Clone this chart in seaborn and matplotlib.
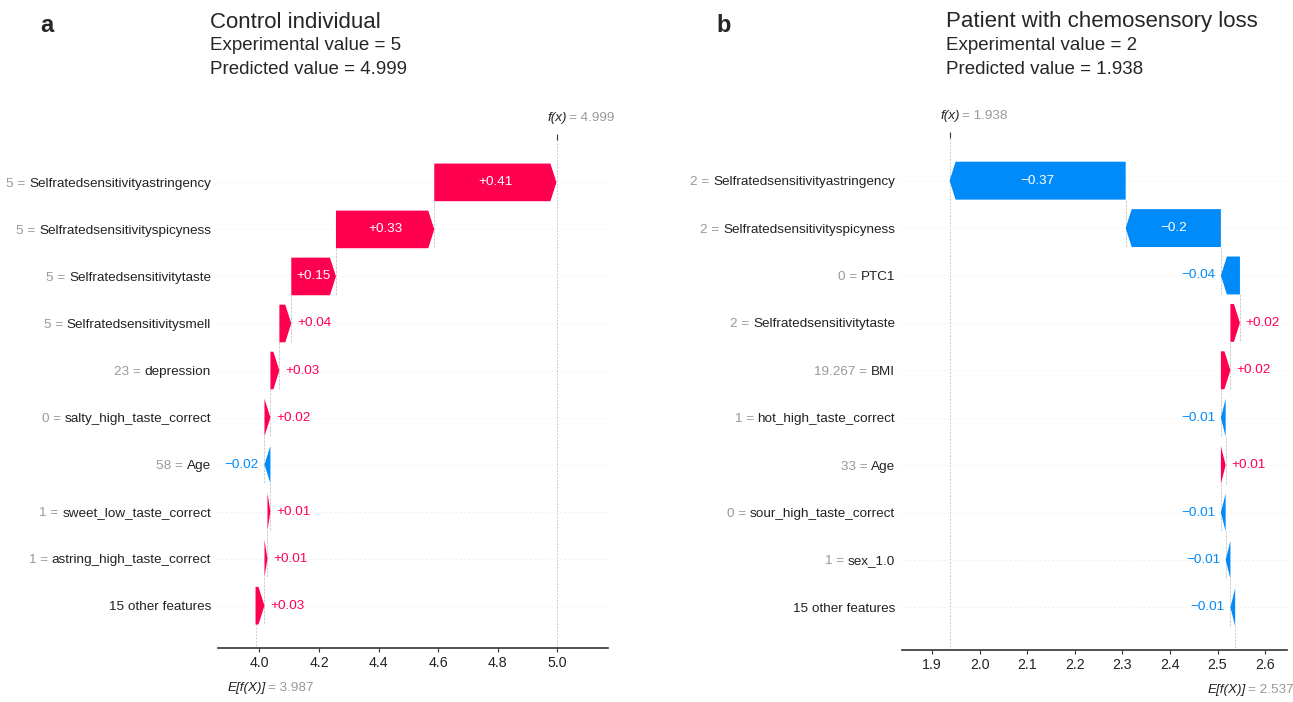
import re
import matplotlib
matplotlib.use('Agg')
import matplotlib.pyplot as plt
import numpy as np
import seaborn as sns

RED = '#ff0051'
BLUE = '#008bfb'
GRAY = '#999999'

# panel a - control individual, rows listed top to bottom
features_a = ['Selfratedsensitivityastringency', 'Selfratedsensitivityspicyness',
              'Selfratedsensitivitytaste', 'Selfratedsensitivitysmell', 'depression',
              'salty_high_taste_correct', 'Age', 'sweet_low_taste_correct',
              'astring_high_taste_correct', '15 other features']
values_a = ['5', '5', '5', '5', '23', '0', '58', '1', '1', '']
shap_a = [0.41, 0.33, 0.15, 0.04, 0.03, 0.02, -0.02, 0.01, 0.01, 0.03]
base_a = 3.987
fx_a = 4.999

# panel b - patient with chemosensory loss
features_b = ['Selfratedsensitivityastringency', 'Selfratedsensitivityspicyness', 'PTC1',
              'Selfratedsensitivitytaste', 'BMI', 'hot_high_taste_correct', 'Age',
              'sour_high_taste_correct', 'sex_1.0', '15 other features']
values_b = ['2', '2', '0', '2', '19.267', '1', '33', '0', '1', '']
shap_b = [-0.37, -0.2, -0.04, 0.02, 0.02, -0.01, 0.01, -0.01, -0.01, -0.01]
base_b = 2.537
fx_b = 1.938

sns.set_style('white')
FONT = ['Liberation Sans', 'DejaVu Sans']
plt.rcParams['font.family'] = FONT
FS = 9.7  # text size inside the waterfall panels


def format_value(v, fmt):
    s = fmt % v
    s = re.sub(r'\.?0+$', '', s)
    if s[0] == '-':
        s = '\u2212' + s[1:]
    return s


def waterfall(fig, ax, features, values, shap, base, fx, xlim):
    n = len(features)
    rows = np.arange(n)
    shap = np.array(shap)
    # bars start where the one below ends, the bottom one starts at the base value
    starts = np.array([base + shap[i + 1:].sum() for i in range(n)])
    ends = starts + shap

    ax.set_xlim(*xlim)
    ax.set_ylim(n - 0.1, -0.9)
    ax.set_yticks(rows)
    ax.set_yticklabels(features, fontsize=FS, color='#222222')
    ax.tick_params(axis='y', length=0, pad=5)
    ax.tick_params(axis='x', length=3, width=0.8, color='#333333',
                   labelsize=FS + 0.5, labelcolor='#222222', pad=3)
    sns.despine(ax=ax, left=True, top=True, right=True)
    ax.spines['bottom'].set_color('#333333')
    ax.spines['bottom'].set_linewidth(1.2)

    fig.canvas.draw()
    renderer = fig.canvas.get_renderer()
    ax_box = ax.get_window_extent()
    hl = 6 * (xlim[1] - xlim[0]) / ax_box.width   # arrow head ~6 px

    # gray "value =" in front of each feature name
    for i, t in zip(rows, ax.yaxis.get_majorticklabels()):
        if not values[i]:
            continue
        x0 = t.get_window_extent(renderer).x0 - ax_box.x0
        ax.annotate(values[i] + ' = ', (0, i), xycoords=ax.get_yaxis_transform(),
                    xytext=(x0, 0), textcoords='offset pixels', ha='right',
                    va='center_baseline', fontsize=FS, color=GRAY, annotation_clip=False)

    for i in rows:
        ax.axhline(i, color='#cccccc', lw=0.5, dashes=(1, 5), zorder=-1)

    for i in rows:
        d = shap[i]
        col = RED if d > 0 else BLUE
        arr = ax.arrow(starts[i], i, d, 0, width=0.8, head_width=0.8,
                       head_length=min(abs(d), hl), length_includes_head=True,
                       color=col, lw=0, zorder=3)
        if i > 0:
            ax.plot([starts[i - 1], starts[i - 1]], [i - 1 + 0.4, i + 0.4],
                    color='#bbbbbb', ls='--', lw=0.5, zorder=-1)
        label = format_value(d, '%+0.02f')
        txt = ax.text(starts[i] + d / 2, i, label, ha='center', va='center',
                      color='white', fontsize=FS, zorder=4)
        if txt.get_window_extent(renderer).width > arr.get_window_extent(renderer).width - 4:
            txt.remove()
            ax.annotate(label, (ends[i], i), xytext=(4 if d > 0 else -4, 0),
                        textcoords='offset points', ha='left' if d > 0 else 'right',
                        va='center', color=col, fontsize=FS, zorder=4)

    # expected value and prediction guide lines
    ax.axvline(fx, color='#bbbbbb', ls=(0, (2, 2)), lw=0.6, zorder=-1)
    ax.plot([base, base], [n - 1 + 0.4, n - 0.1], color='#bbbbbb',
            ls=(0, (2, 2)), lw=0.6, zorder=-1)

    # f(x) tick on top
    ax3 = ax.twiny()
    ax3.set_xlim(*xlim)
    ax3.set_xticks([fx])
    ax3.set_xticklabels([''])
    ax3.tick_params(axis='x', length=4, width=0.8, color='#333333')
    for s in ax3.spines.values():
        s.set_visible(False)
    ax.annotate('f(x)', (fx, 1), xycoords=ax.get_xaxis_transform(), xytext=(0, 16),
                textcoords='offset points', ha='center', va='center',
                fontsize=FS, fontstyle='italic', color='#222222')
    ax.annotate('= ' + format_value(fx, '%0.03f'), (fx, 1), xycoords=ax.get_xaxis_transform(),
                xytext=(8.5, 16), textcoords='offset points', ha='left', va='center',
                fontsize=FS, color=GRAY)
    ax.annotate('E[f(X)]', (base, 0), xycoords=ax.get_xaxis_transform(), xytext=(7.5, -29),
                textcoords='offset points', ha='right', va='center',
                fontsize=FS, fontstyle='italic', color='#222222')
    ax.annotate('= ' + format_value(base, '%0.03f'), (base, 0), xycoords=ax.get_xaxis_transform(),
                xytext=(9, -29), textcoords='offset points', ha='left', va='center',
                fontsize=FS, color=GRAY)


fig = plt.figure(figsize=(12.93, 7.02), dpi=100)
ax_a = fig.add_axes([0.1686, 0.0769, 0.3016, 0.7236])
ax_b = fig.add_axes([0.6976, 0.0741, 0.2978, 0.7293])

waterfall(fig, ax_a, features_a, values_a, shap_a, base_a, fx_a, (3.861, 5.17))
waterfall(fig, ax_b, features_b, values_b, shap_b, base_b, fx_b, (1.837, 2.646))

# panel headers
for letter, x_letter, x_title, title, exp, pred in [
        ('a', 0.031, 0.1625, 'Control individual', '5', '4.999'),
        ('b', 0.554, 0.7316, 'Patient with chemosensory loss', '2', '1.938')]:
    fig.text(x_letter, 1 - 26 / 702, letter, fontsize=17, fontweight='bold', va='center')
    fig.text(x_title, 1 - 22 / 702, title, fontsize=16, va='center')
    fig.text(x_title, 1 - 46 / 702, 'Experimental value = ' + exp, fontsize=13.5, va='center')
    fig.text(x_title, 1 - 69 / 702, 'Predicted value = ' + pred, fontsize=13.5, va='center')

fig.savefig('out.png', dpi=100)
